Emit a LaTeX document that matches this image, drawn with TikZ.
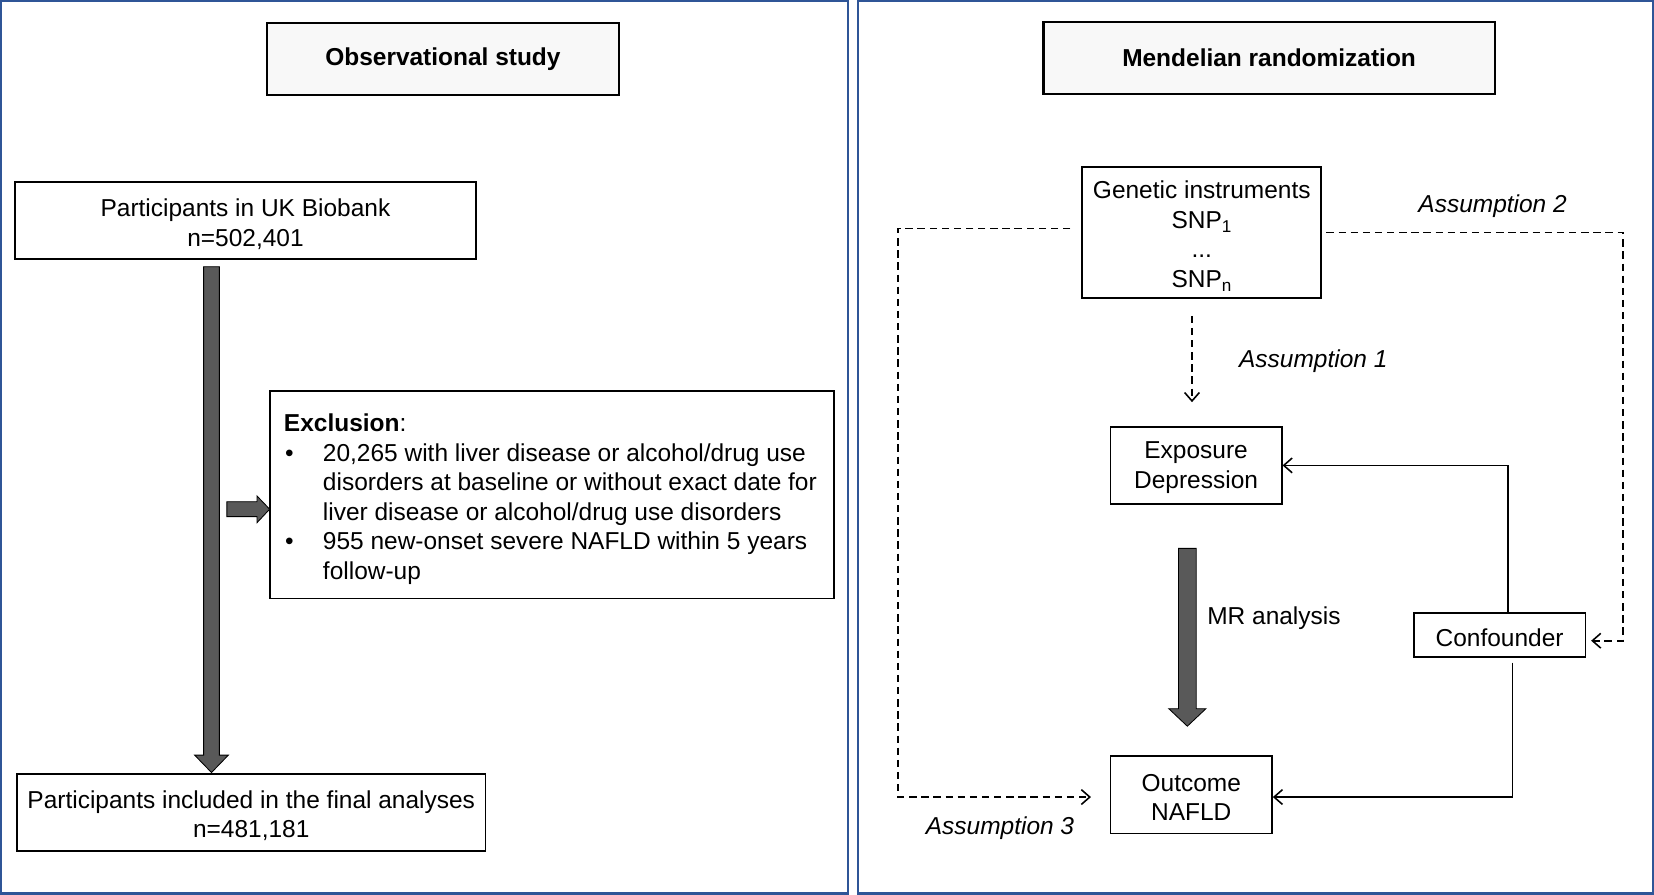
\documentclass[tikz,border=0pt]{standalone}
\usepackage{fontspec}
\setmainfont{Liberation Sans}
\usetikzlibrary{arrows.meta,calc}
\definecolor{panelblue}{RGB}{47,85,151}
\definecolor{arrowgray}{RGB}{89,89,89}
\definecolor{titlefill}{RGB}{248,248,248}
\newcommand\firststrut{\rule{0pt}{23pt}}
\begin{document}
\begin{tikzpicture}[x=1pt,y=1pt,
  every node/.style={font=\fontsize{23.2}{28}\selectfont},
  panel/.style={draw=panelblue,line width=2.2pt},
  titlebox/.style={draw=black,fill=titlefill,line width=2pt,font=\fontsize{23.2}{28}\selectfont\bfseries,inner sep=0pt},
  box/.style={draw=black,line width=1.6pt,align=center,inner sep=0pt},
  bigarrow/.style={fill=arrowgray,draw=black,line width=0.8pt,line join=miter},
  dasharr/.style={draw=black,line width=1.5pt,dash pattern=on 7pt off 4.5pt,-{Straight Barb[length=8pt,width=14pt]}},
  solidarr/.style={draw=black,line width=1.5pt,-{Straight Barb[length=8pt,width=14pt]}},
  lbl/.style={font=\fontsize{23.2}{28}\selectfont\itshape}
]
\useasboundingbox (0,0) rectangle (1568,-848);
% panels
\draw[panel] (1.1,-1.1) rectangle (804,-846.9);
\draw[panel] (813.5,-1.1) rectangle (1566.9,-846.9);

% ---------- left panel ----------
\node[titlebox, minimum width=334.4pt, minimum height=68.9pt] (obs) at (419.9,-56) {Observational study};
\node[box, minimum width=437.3pt, minimum height=73.3pt] (part) at (232.7,-209.2) {\firststrut Participants in UK Biobank\\n=502,401};
\node[box, minimum width=534.5pt, minimum height=196.5pt, align=left] (excl) at (523.2,-469)
{\rule{0pt}{25pt}\makebox[508pt][l]{\textbf{Exclusion}:}\\
\makebox[37pt][l]{\hspace{1pt}•}20,265 with liver disease or alcohol/drug use\\
\hspace*{37pt}disorders at baseline or without exact date for\\
\hspace*{37pt}liver disease or alcohol/drug use disorders\\
\makebox[37pt][l]{\hspace{1pt}•}955 new-onset severe NAFLD within 5 years\\
\hspace*{37pt}follow-up};
\node[box, minimum width=444.1pt, minimum height=72.7pt] (final) at (238.2,-770.4) {\firststrut Participants included in the final analyses\\n=481,181};

% big vertical arrow (part -> final)
\path ([xshift=-32.2pt,yshift=-6.2pt]part.south) coordinate (L1);
\filldraw[bigarrow] (L1) ++(-7.5,0) -- ++(0,-463) -- ++(-8.5,0) -- ++(16,-16.5) -- ++(16,16.5) -- ++(-8.5,0) -- ++(0,463) -- cycle;
% small horizontal arrow into exclusion
\path ([shift={(0.5,-13.7)}]excl.west) coordinate (E1);
\filldraw[bigarrow] (E1) ++(-40.6,7.1) -- ++(28.6,0) -- ++(0,5.4) -- ++(12,-12.5) -- ++(-12,-12.8) -- ++(0,5.7) -- ++(-28.6,0) -- cycle;

% ---------- right panel ----------
\node[titlebox, minimum width=427.8pt, minimum height=68.9pt] (mr) at (1203.1,-55) {Mendelian randomization};
\node[box, minimum width=226.6pt, minimum height=124.2pt] (gen) at (1139.3,-220.1) {\rule{0pt}{24pt}Genetic instruments\\SNP\textsubscript{1}\\...\\SNP\textsubscript{n}};
\node[box, minimum width=162.3pt, minimum height=73.3pt] (expo) at (1133.9,-441.2) {\rule{0pt}{20pt}Exposure\\Depression};
\node[box, minimum width=162.8pt, minimum height=41.7pt] (conf) at (1421.6,-601.7) {\firststrut Confounder};
\node[box, minimum width=153.1pt, minimum height=73.3pt] (out) at (1129.3,-753.4) {\rule{0pt}{21pt}Outcome\\NAFLD};

% labels
\node[lbl] (a2) at (1415,-195.5) {Assumption 2};
\node[lbl] (a1) at (1245,-342) {Assumption 1};
\node[lbl] (a3) at (948,-785) {Assumption 3};
\node[anchor=west] (mrl) at (1141,-586) {MR analysis};

% dashed assumption connectors
\draw[dasharr] ([shift={(-9.3,-16.4)}]gen.south) -- ([shift={(-3.9,22.5)}]expo.north);
\draw[dasharr] ([shift={(-10.5,3.3)}]gen.west) -- ++(-163.5,0) |- ([shift={(-17.7,-2.2)}]out.west);
\draw[dasharr] ([shift={(4,-0.2)}]gen.east) -- ++(281,0) |- ([shift={(4.6,-5.7)}]conf.east);

% confounder connectors
\draw[solidarr] ([xshift=8pt]conf.north) |- (expo.east);
\draw[solidarr] ([shift={(12.1,-4.8)}]conf.south) |- ([yshift=-2.2pt]out.east);

% MR analysis arrow (expo -> out)
\path ([shift={(-8.3,-41.2)}]expo.south) coordinate (M1);
\filldraw[bigarrow] (M1) ++(-8.4,0) -- ++(0,-152) -- ++(-9.2,0) -- ++(17.6,-16.6) -- ++(17.6,16.6) -- ++(-9.2,0) -- ++(0,152) -- cycle;
\end{tikzpicture}
\end{document}
